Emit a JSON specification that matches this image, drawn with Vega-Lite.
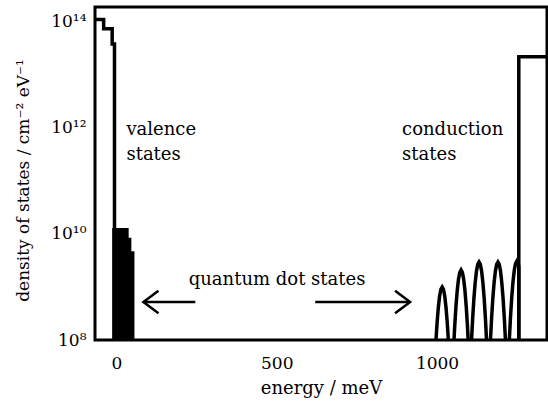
{
  "$schema": "https://vega.github.io/schema/vega-lite/v6.json",
  "width": 452,
  "height": 333,
  "autosize": {"type": "none"},
  "padding": {"left": 95, "top": 7, "right": 1, "bottom": 62},
  "background": "white",
  "config": {
    "view": {"stroke": "black", "strokeWidth": 3},
    "axis": {"grid": false, "domain": false, "ticks": false, "tickSize": 0, "labelFontSize": 17, "labelColor": "black", "titleFontSize": 18, "titleFontWeight": "normal", "titleColor": "black"}
  },
  "datasets": {
    "lines": [
      {"s": "vb", "o": 1, "e": -67, "d": 1.1e14},
      {"s": "vb", "o": 2, "e": -40, "d": 1.1e14},
      {"s": "vb", "o": 3, "e": -40, "d": 7.4e13},
      {"s": "vb", "o": 4, "e": -13.4, "d": 7.4e13},
      {"s": "vb", "o": 5, "e": -13.4, "d": 3.8e13},
      {"s": "vb", "o": 6, "e": -6.2, "d": 3.8e13},
      {"s": "vb", "o": 7, "e": -6.2, "d": 1e7},
      {"s": "cb", "o": 1, "e": 1255, "d": 1e7},
      {"s": "cb", "o": 2, "e": 1255, "d": 2.19e13},
      {"s": "cb", "o": 3, "e": 1350, "d": 2.19e13},
      {"s": "p1", "o": 1, "e": 988, "d": 7.9e6},
      {"s": "p1", "o": 2, "e": 992, "d": 2.86e7},
      {"s": "p1", "o": 3, "e": 996, "d": 8.47e7},
      {"s": "p1", "o": 4, "e": 1000, "d": 2.06e8},
      {"s": "p1", "o": 5, "e": 1004, "d": 4.11e8},
      {"s": "p1", "o": 6, "e": 1008, "d": 6.74e8},
      {"s": "p1", "o": 7, "e": 1012, "d": 9.06e8},
      {"s": "p1", "o": 8, "e": 1016, "d": 1.0e9},
      {"s": "p1", "o": 9, "e": 1020, "d": 9.06e8},
      {"s": "p1", "o": 10, "e": 1024, "d": 6.74e8},
      {"s": "p1", "o": 11, "e": 1028, "d": 4.11e8},
      {"s": "p1", "o": 12, "e": 1032, "d": 2.06e8},
      {"s": "p1", "o": 13, "e": 1036, "d": 8.47e7},
      {"s": "p1", "o": 14, "e": 1040, "d": 2.86e7},
      {"s": "p1", "o": 15, "e": 1044, "d": 7.9e6},
      {"s": "p2", "o": 1, "e": 1047, "d": 1.65e7},
      {"s": "p2", "o": 2, "e": 1051, "d": 5.97e7},
      {"s": "p2", "o": 3, "e": 1055, "d": 1.77e8},
      {"s": "p2", "o": 4, "e": 1059, "d": 4.30e8},
      {"s": "p2", "o": 5, "e": 1063, "d": 8.59e8},
      {"s": "p2", "o": 6, "e": 1067, "d": 1.41e9},
      {"s": "p2", "o": 7, "e": 1071, "d": 1.89e9},
      {"s": "p2", "o": 8, "e": 1075, "d": 2.09e9},
      {"s": "p2", "o": 9, "e": 1079, "d": 1.89e9},
      {"s": "p2", "o": 10, "e": 1083, "d": 1.41e9},
      {"s": "p2", "o": 11, "e": 1087, "d": 8.59e8},
      {"s": "p2", "o": 12, "e": 1091, "d": 4.30e8},
      {"s": "p2", "o": 13, "e": 1095, "d": 1.77e8},
      {"s": "p2", "o": 14, "e": 1099, "d": 5.97e7},
      {"s": "p2", "o": 15, "e": 1103, "d": 1.65e7},
      {"s": "p3", "o": 1, "e": 1103, "d": 2.33e7},
      {"s": "p3", "o": 2, "e": 1107, "d": 8.43e7},
      {"s": "p3", "o": 3, "e": 1111, "d": 2.50e8},
      {"s": "p3", "o": 4, "e": 1115, "d": 6.08e8},
      {"s": "p3", "o": 5, "e": 1119, "d": 1.21e9},
      {"s": "p3", "o": 6, "e": 1123, "d": 1.99e9},
      {"s": "p3", "o": 7, "e": 1127, "d": 2.67e9},
      {"s": "p3", "o": 8, "e": 1131, "d": 2.95e9},
      {"s": "p3", "o": 9, "e": 1135, "d": 2.67e9},
      {"s": "p3", "o": 10, "e": 1139, "d": 1.99e9},
      {"s": "p3", "o": 11, "e": 1143, "d": 1.21e9},
      {"s": "p3", "o": 12, "e": 1147, "d": 6.08e8},
      {"s": "p3", "o": 13, "e": 1151, "d": 2.50e8},
      {"s": "p3", "o": 14, "e": 1155, "d": 8.43e7},
      {"s": "p3", "o": 15, "e": 1159, "d": 2.33e7},
      {"s": "p4", "o": 1, "e": 1162, "d": 2.33e7},
      {"s": "p4", "o": 2, "e": 1166, "d": 8.43e7},
      {"s": "p4", "o": 3, "e": 1170, "d": 2.50e8},
      {"s": "p4", "o": 4, "e": 1174, "d": 6.08e8},
      {"s": "p4", "o": 5, "e": 1178, "d": 1.21e9},
      {"s": "p4", "o": 6, "e": 1182, "d": 1.99e9},
      {"s": "p4", "o": 7, "e": 1186, "d": 2.67e9},
      {"s": "p4", "o": 8, "e": 1190, "d": 2.95e9},
      {"s": "p4", "o": 9, "e": 1194, "d": 2.67e9},
      {"s": "p4", "o": 10, "e": 1198, "d": 1.99e9},
      {"s": "p4", "o": 11, "e": 1202, "d": 1.21e9},
      {"s": "p4", "o": 12, "e": 1206, "d": 6.08e8},
      {"s": "p4", "o": 13, "e": 1210, "d": 2.50e8},
      {"s": "p4", "o": 14, "e": 1214, "d": 8.43e7},
      {"s": "p4", "o": 15, "e": 1218, "d": 2.33e7},
      {"s": "p5", "o": 1, "e": 1221, "d": 2.44e7},
      {"s": "p5", "o": 2, "e": 1225, "d": 8.83e7},
      {"s": "p5", "o": 3, "e": 1229, "d": 2.62e8},
      {"s": "p5", "o": 4, "e": 1233, "d": 6.37e8},
      {"s": "p5", "o": 5, "e": 1237, "d": 1.27e9},
      {"s": "p5", "o": 6, "e": 1241, "d": 2.08e9},
      {"s": "p5", "o": 7, "e": 1245, "d": 2.80e9},
      {"s": "p5", "o": 8, "e": 1249, "d": 3.09e9},
      {"s": "p5", "o": 9, "e": 1253, "d": 2.80e9},
      {"s": "p5", "o": 10, "e": 1255, "d": 2.4e9},
      {"s": "p5", "o": 11, "e": 1255, "d": 1e7}
    ],
    "fill": [
      {"e": -13.4, "d": 1.29e10},
      {"e": 38, "d": 8.5e9},
      {"e": 46.4, "d": 4.7e9},
      {"e": 56, "d": 4.7e9}
    ],
    "arrows": [
      {"s": "a1", "o": 1, "e": 84, "d": 5.2e8},
      {"s": "a1", "o": 2, "e": 246, "d": 5.2e8},
      {"s": "a1h", "o": 1, "e": 131, "d": 8.45e8},
      {"s": "a1h", "o": 2, "e": 84, "d": 5.2e8},
      {"s": "a1h", "o": 3, "e": 131, "d": 3.2e8},
      {"s": "a2", "o": 1, "e": 620, "d": 5.2e8},
      {"s": "a2", "o": 2, "e": 916, "d": 5.2e8},
      {"s": "a2h", "o": 1, "e": 869, "d": 8.45e8},
      {"s": "a2h", "o": 2, "e": 916, "d": 5.2e8},
      {"s": "a2h", "o": 3, "e": 869, "d": 3.2e8}
    ],
    "notes": [
      {"e": 31, "d": 7.38e11, "t": "valence"},
      {"e": 31, "d": 2.49e11, "t": "states"},
      {"e": 891, "d": 7.38e11, "t": "conduction"},
      {"e": 891, "d": 2.49e11, "t": "states"}
    ],
    "notesQ": [
      {"e": 501, "d": 1.09e9, "t": "quantum dot states"}
    ]
  },
  "encoding": {
    "x": {"field": "e", "type": "quantitative", "scale": {"domain": [-67, 1343], "nice": false, "zero": false},
      "axis": {"values": [0, 500, 1000], "format": "d", "title": "energy / meV", "labelPadding": 15, "titlePadding": 8, "labelFont": "DejaVu Serif", "titleFont": "DejaVu Serif"}},
    "y": {"field": "d", "type": "quantitative", "scale": {"type": "log", "domain": [1e8, 1.9e14], "nice": false},
      "axis": {"values": [1e8, 1e10, 1e12, 1e14], "labelPadding": 9, "titlePadding": 18, "titleY": 173, "titleFontSize": 17, "labelFont": "DejaVu Serif", "titleFont": "DejaVu Serif",
        "labelExpr": "datum.value == 1e8 ? '10⁸' : datum.value == 1e10 ? '10¹⁰' : datum.value == 1e12 ? '10¹²' : datum.value == 1e14 ? '10¹⁴' : ''",
        "title": "density of states / cm⁻² eV⁻¹"}}
  },
  "layer": [
    {
      "data": {"name": "fill"},
      "mark": {"type": "area", "interpolate": "step-after", "color": "black", "clip": true},
      "encoding": {"y2": {"datum": 1e8}}
    },
    {
      "data": {"name": "lines"},
      "mark": {"type": "line", "color": "black", "strokeWidth": 3.5, "strokeJoin": "miter", "clip": true},
      "encoding": {"detail": {"field": "s"}, "order": {"field": "o", "type": "quantitative"}}
    },
    {
      "data": {"name": "arrows"},
      "mark": {"type": "line", "color": "black", "strokeWidth": 2.5, "strokeJoin": "miter", "clip": true},
      "encoding": {"detail": {"field": "s"}, "order": {"field": "o", "type": "quantitative"}}
    },
    {
      "data": {"name": "notes"},
      "mark": {"type": "text", "align": "left", "baseline": "alphabetic", "fontSize": 18, "color": "black", "font": "DejaVu Serif"},
      "encoding": {"text": {"field": "t"}}
    },
    {
      "data": {"name": "notesQ"},
      "mark": {"type": "text", "align": "center", "baseline": "alphabetic", "fontSize": 18, "color": "black", "font": "DejaVu Serif"},
      "encoding": {"text": {"field": "t"}}
    }
  ]
}
